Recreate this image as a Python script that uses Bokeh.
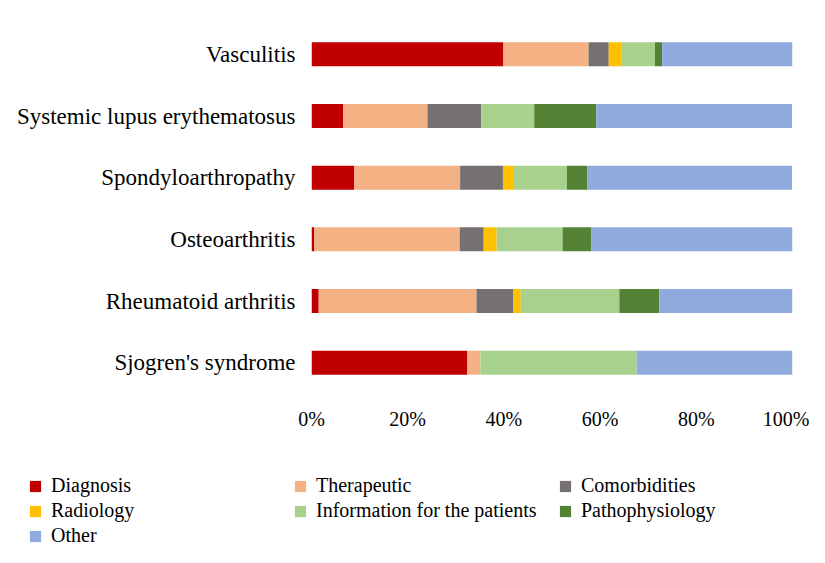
from bokeh.plotting import figure
from bokeh.layouts import column
from bokeh.models import ColumnDataSource, FactorRange, Legend, LegendItem, FixedTicker, PrintfTickFormatter, Range1d
from bokeh.embed import file_html
from bokeh.resources import INLINE

categories = ["Sjogren's syndrome", "Rheumatoid arthritis", "Osteoarthritis",
              "Spondyloarthropathy", "Systemic lupus erythematosus", "Vasculitis"]
series = ["Diagnosis", "Therapeutic", "Comorbidities", "Radiology",
          "Information for the patients", "Pathophysiology", "Other"]
diagnosis     = [32.4, 1.5, 0.6, 8.9, 6.6, 39.9]
therapeutic   = [2.7, 32.8, 30.2, 22.0, 17.5, 17.7]
comorbidities = [0.0, 7.7, 5.0, 8.9, 11.2, 4.2]
radiology     = [0.0, 1.5, 2.7, 2.3, 0.0, 2.7]
information   = [32.5, 20.5, 13.7, 11.0, 11.0, 6.9]
pathophysiology = [0.0, 8.3, 6.0, 4.2, 12.9, 1.5]
other         = [32.4, 27.7, 41.8, 42.6, 40.7, 27.2]
tick_values = [0, 20, 40, 60, 80, 100]

colors = ["#C00000", "#F4B183", "#767171", "#FFC000", "#A9D18E", "#548235", "#8FAADC"]
keys = ["diagnosis", "therapeutic", "comorbidities", "radiology", "information", "pathophysiology", "other"]

source = ColumnDataSource(dict(cat=categories, diagnosis=diagnosis, therapeutic=therapeutic,
                               comorbidities=comorbidities, radiology=radiology,
                               information=information, pathophysiology=pathophysiology,
                               other=other))

W = 809
H1, H2 = 447, 100
font = "Liberation Serif"

p = figure(width=W, height=H1, output_backend="svg", toolbar_location=None,
           y_range=FactorRange(*categories, range_padding=0),
           x_range=Range1d(0, 100), frame_align=False,
           min_border_left=311, min_border_right=W - 792, min_border_top=23, min_border_bottom=H1 - 393)
p.outline_line_color = None
p.border_fill_color = "white"

renderers = p.hbar_stack(keys, y="cat", height=0.39, color=colors, line_color=None, source=source)

p.xgrid.visible = False
p.ygrid.visible = False
for ax in (p.xaxis[0], p.yaxis[0]):
    ax.axis_line_color = None
    ax.major_tick_line_color = None
    ax.minor_tick_line_color = None
    ax.major_tick_out = 0
    ax.major_tick_in = 0
    ax.major_label_text_font = font
    ax.major_label_text_color = "#000000"

p.yaxis.major_label_text_font_size = "23px"
p.yaxis.major_label_standoff = 16
p.xaxis.ticker = FixedTicker(ticks=tick_values)
p.xaxis.formatter = PrintfTickFormatter(format="%d%%")
p.xaxis.major_label_text_font_size = "20px"
p.xaxis.major_label_standoff = 14

# legend strip below the chart: same series, hidden renderers as legend sources
lg = figure(width=W, height=H2, output_backend="svg", toolbar_location=None,
            x_range=Range1d(0, 100), y_range=FactorRange(*categories),
            frame_align=False,
            min_border_left=0, min_border_right=0, min_border_top=0, min_border_bottom=0)
lg.axis.visible = False
lg.grid.visible = False
lg.outline_line_color = None
lg_renderers = lg.hbar_stack(keys, y="cat", height=0.39, color=colors, line_color=None,
                             source=source, visible=False)
items = [LegendItem(label=s, renderers=[r]) for s, r in zip(series, lg_renderers)]
legend = Legend(items=items, ncols=3, orientation="horizontal", location=(28, 0),
                glyph_width=14, glyph_height=14, label_height=14, label_width=240,
                label_standoff=9, spacing=2, padding=0, margin=0,
                label_text_font=font, label_text_font_size="20px", label_text_color="#000000",
                inactive_fill_alpha=0, click_policy="none",
                border_line_color=None, background_fill_alpha=0)
lg.add_layout(legend, "center")

layout = column(p, lg, spacing=0)
open("out.html", "w").write(file_html(layout, INLINE))
